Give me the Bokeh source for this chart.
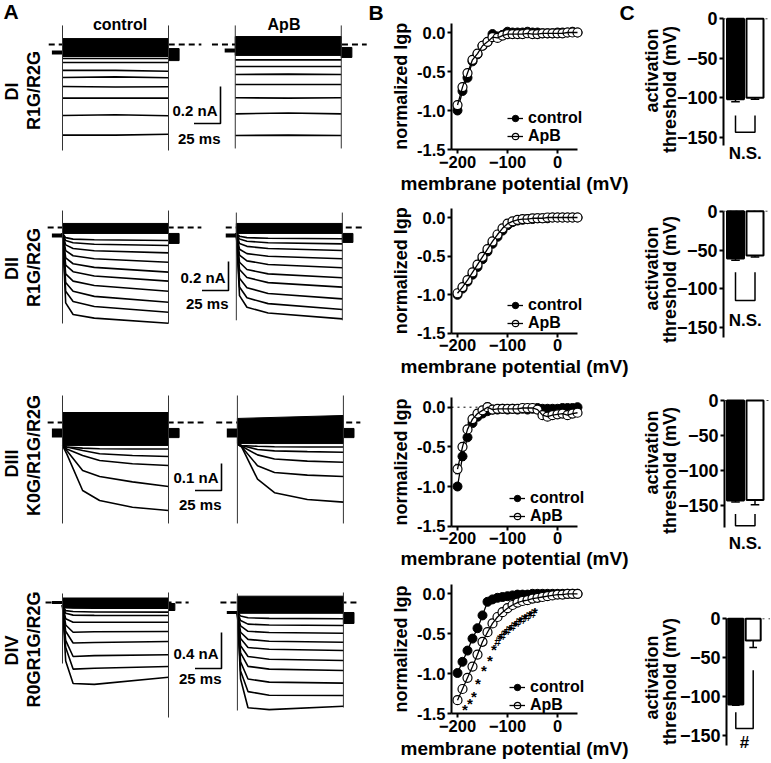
import math
from bokeh.plotting import figure
from bokeh.layouts import row, column
from bokeh.models import (Range1d, FixedTicker, PrintfTickFormatter, Label,
                          Legend, LegendItem, ColumnDataSource)
from bokeh.core.properties import value
from bokeh.embed import file_html
from bokeh.resources import INLINE

FONT = "Liberation Sans"

# ------------------------------------------------------------------ data
ROW_NAMES = ["DI", "DII", "DIII", "DIV"]
ROW_CONSTRUCTS = ["R1G/R2G", "R1G/R2G", "K0G/R1G/R2G", "R0GR1G/R2G"]

# Panel A: currents (nA) at knot times (ms) of a 100 ms step
STEP_MS = 100
SCALE_NA = [0.2, 0.2, 0.1, 0.4]
SCALE_MS = 25

DI_T = [0, 50, 100]
DI_CTRL = [[-0.076, -0.076, -0.076], [-0.097, -0.097, -0.097], [-0.140, -0.140, -0.145],
           [-0.178, -0.175, -0.180], [-0.227, -0.230, -0.228], [-0.290, -0.290, -0.290],
           [-0.384, -0.380, -0.385], [-0.490, -0.490, -0.485]]
DI_APB = [[-0.083, -0.083, -0.083], [-0.119, -0.119, -0.119], [-0.162, -0.160, -0.162],
          [-0.216, -0.216, -0.216], [-0.288, -0.290, -0.288], [-0.375, -0.370, -0.375],
          [-0.492, -0.490, -0.492]]

DII_T = [0, 3, 10, 30, 100]
DII_CTRL = [[-0.04, -0.07, -0.08, -0.085, -0.09], [-0.04, -0.09, -0.105, -0.115, -0.124],
            [-0.04, -0.12, -0.145, -0.16, -0.175], [-0.04, -0.16, -0.195, -0.215, -0.24],
            [-0.04, -0.21, -0.25, -0.275, -0.308], [-0.04, -0.26, -0.305, -0.335, -0.37],
            [-0.04, -0.32, -0.37, -0.40, -0.44], [-0.04, -0.38, -0.44, -0.475, -0.515],
            [-0.04, -0.44, -0.51, -0.545, -0.584], [-0.04, -0.52, -0.60, -0.625, -0.66]]
DII_APB = [[-0.04, -0.06, -0.07, -0.074, -0.078], [-0.04, -0.08, -0.095, -0.105, -0.113],
           [-0.04, -0.11, -0.13, -0.145, -0.159], [-0.04, -0.15, -0.18, -0.198, -0.216],
           [-0.04, -0.19, -0.23, -0.255, -0.278], [-0.04, -0.24, -0.29, -0.32, -0.347],
           [-0.04, -0.29, -0.345, -0.38, -0.411], [-0.04, -0.35, -0.415, -0.455, -0.492],
           [-0.04, -0.41, -0.485, -0.525, -0.566], [-0.04, -0.47, -0.55, -0.59, -0.63]]

DIII_T = [0, 4, 19, 35, 66, 100]
DIII_CTRL = [[-0.085, -0.091, -0.095, -0.097, -0.098, -0.098],
             [-0.085, -0.091, -0.104, -0.116, -0.122, -0.126],
             [-0.085, -0.098, -0.122, -0.141, -0.153, -0.159],
             [-0.085, -0.104, -0.178, -0.200, -0.220, -0.237],
             [-0.085, -0.116, -0.252, -0.289, -0.314, -0.326]]
DIII_APB = [[-0.08, -0.085, -0.088, -0.090, -0.091, -0.091],
            [-0.08, -0.085, -0.100, -0.105, -0.108, -0.110],
            [-0.08, -0.088, -0.120, -0.135, -0.143, -0.147],
            [-0.08, -0.090, -0.160, -0.185, -0.195, -0.200],
            [-0.08, -0.090, -0.210, -0.260, -0.285, -0.295]]

DIV_T = [0, 3, 10, 30, 100]
DIV_CTRL = [[-0.03, -0.055, -0.06, -0.062, -0.063], [-0.03, -0.09, -0.10, -0.105, -0.107],
            [-0.03, -0.12, -0.14, -0.143, -0.144], [-0.03, -0.18, -0.22, -0.22, -0.219],
            [-0.03, -0.25, -0.33, -0.325, -0.322], [-0.03, -0.32, -0.45, -0.445, -0.433],
            [-0.03, -0.42, -0.60, -0.59, -0.581], [-0.03, -0.50, -0.74, -0.73, -0.711],
            [-0.03, -0.65, -0.90, -0.91, -0.83]]
DIV_APB = [[-0.11, -0.15, -0.17, -0.176, -0.181], [-0.11, -0.20, -0.24, -0.25, -0.256],
           [-0.11, -0.26, -0.32, -0.333, -0.341], [-0.11, -0.33, -0.41, -0.43, -0.441],
           [-0.11, -0.40, -0.50, -0.52, -0.533], [-0.11, -0.48, -0.60, -0.63, -0.644],
           [-0.11, -0.56, -0.71, -0.74, -0.756], [-0.11, -0.66, -0.85, -0.885, -0.896],
           [-0.11, -0.76, -0.99, -1.03, -1.033], [-0.11, -0.85, -1.17, -1.19, -1.152]]

A_T = [DI_T, DII_T, DIII_T, DIV_T]
A_CTRL = [DI_CTRL, DII_CTRL, DIII_CTRL, DIV_CTRL]
A_APB = [DI_APB, DII_APB, DIII_APB, DIV_APB]
# band of small overlapping traces: (top at onset, top at end, bottom), nA
BAND_CTRL = [(0.032, 0.032, -0.065), (0.028, 0.028, -0.041), (0.037, 0.037, -0.085), (0.05, 0.05, -0.06)]
BAND_APB = [(0.043, 0.043, -0.059), (0.028, 0.028, -0.041), (0.015, 0.026, -0.078), (0.07, 0.07, -0.12)]
HOLD_CTRL = [-0.043, -0.055, -0.039, 0.0]
HOLD_APB = [-0.032, -0.055, -0.039, -0.111]
# tail after the step: (top, bottom, duration ms)
TAIL_CTRL = [(-0.022, -0.087, 10), (-0.041, -0.110, 10), (-0.022, -0.056, 10), (-0.011, -0.089, 6)]
TAIL_APB = [(-0.016, -0.070, 10), (-0.041, -0.103, 10), (-0.022, -0.056, 10), (-0.111, -0.233, 10)]
# capacitive transients at onset and offset: (top, bottom)
TRANS_CTRL = [((0.103, -0.573), (0.103, -0.573)), ((0.117, -0.662), (0.117, -0.662)),
              ((0.10, -0.374), (0.10, -0.374)), ((0.10, -0.678), (0.111, -1.278))]
TRANS_APB = [((0.103, -0.562), (0.103, -0.562)), ((0.103, -0.64), (0.103, -0.64)),
             ((0.10, -0.374), (0.10, -0.374)), ((0.10, -1.20), (0.111, -1.167))]
DASH_CTRL = [(-13, 131), (-14, 131), (-14, 133), (-16, 119)]
DASH_APB = [(-22, 124), (-10, 120), (-20, 116), (-16, 115)]

# Panel B: normalized Igp vs membrane potential
V_MV = [-200, -190, -180, -170, -160, -150, -140, -130, -120, -110, -100, -90, -80,
        -70, -60, -50, -40, -30, -20, -10, 0, 10, 20, 30, 40]
DI_IV_CTRL = [-1.00, -0.75, -0.58, -0.37, -0.28, -0.17, -0.12, -0.02, -0.05, -0.03, 0.01, 0.00, 0.00,
              0.00, 0.01, 0.00, 0.00, -0.01, -0.01, -0.01, 0.00, 0.00, 0.00, 0.01, 0.00]
DI_IV_APB = [-0.93, -0.70, -0.52, -0.35, -0.27, -0.17, -0.12, -0.06, -0.07, -0.04, -0.02, -0.02, -0.02,
             -0.02, -0.01, -0.02, -0.02, -0.01, -0.01, -0.01, -0.01, -0.01, 0.00, 0.00, 0.00]
DII_IV_CTRL = [-1.00, -0.92, -0.83, -0.74, -0.64, -0.54, -0.44, -0.34, -0.25, -0.17, -0.10, -0.06, -0.04,
               -0.03, -0.02, -0.02, -0.01, -0.01, -0.01, 0.00, 0.00, 0.00, 0.00, 0.00, 0.00]
DII_IV_APB = [-0.98, -0.90, -0.81, -0.71, -0.61, -0.51, -0.41, -0.31, -0.22, -0.14, -0.08, -0.05, -0.03,
              -0.02, -0.02, -0.01, -0.01, -0.01, 0.00, 0.00, 0.00, 0.00, 0.00, 0.00, 0.00]
DIII_IV_CTRL = [-1.00, -0.62, -0.38, -0.20, -0.12, -0.08, -0.05, -0.03, -0.03, -0.02, -0.03, -0.02, -0.03,
                -0.02, -0.03, -0.02, -0.01, -0.02, -0.02, -0.02, -0.02, -0.01, -0.01, -0.01, 0.00]
DIII_IV_APB = [-0.78, -0.50, -0.28, -0.15, -0.08, -0.04, 0.00, -0.03, -0.02, -0.02, -0.02, -0.02, -0.02,
               -0.01, -0.01, -0.01, -0.03, -0.10, -0.12, -0.10, -0.09, -0.08, -0.10, -0.08, -0.07]
DIII_ERR_CTRL = [0.00, 0.05, 0.04, 0.02, 0.03, 0.02, 0.02, 0.01, 0.01, 0.01, 0.01, 0.01, 0.01,
                 0.01, 0.01, 0.01, 0.01, 0.01, 0.01, 0.01, 0.01, 0.01, 0.01, 0.01, 0.01]
DIII_ERR_APB = [0.06, 0.05, 0.05, 0.03, 0.03, 0.03, 0.05, 0.02, 0.01, 0.01, 0.01, 0.01, 0.01,
                0.01, 0.01, 0.01, 0.02, 0.02, 0.02, 0.02, 0.02, 0.02, 0.02, 0.02, 0.02]
DIV_IV_CTRL = [-0.99, -0.85, -0.71, -0.56, -0.43, -0.27, -0.10, -0.07, -0.05, -0.04, -0.03, -0.02, -0.01,
               -0.01, -0.01, 0.00, 0.00, 0.00, 0.00, 0.00, 0.00, 0.00, 0.00, 0.00, 0.00]
DIV_IV_APB = [-1.33, -1.19, -1.05, -0.91, -0.76, -0.60, -0.48, -0.37, -0.29, -0.23, -0.18, -0.14, -0.11,
              -0.09, -0.08, -0.06, -0.05, -0.04, -0.03, -0.02, -0.01, -0.01, 0.00, 0.00, 0.00]
IV_CTRL = [DI_IV_CTRL, DII_IV_CTRL, DIII_IV_CTRL, DIV_IV_CTRL]
IV_APB = [DI_IV_APB, DII_IV_APB, DIII_IV_APB, DIV_IV_APB]
STAR_V = [-185, -175, -167, -159, -147, -135, -127, -115, -105, -95, -85, -75, -65, -55, -45]
STAR_Y = [-1.45, -1.37, -1.28, -1.12, -0.96, -0.83, -0.70, -0.56, -0.50, -0.44, -0.39, -0.35, -0.31, -0.27, -0.23]
HASH_V = [-120, -110, -100, -90, -80, -70, -60, -50]
HASH_Y = [-0.60, -0.53, -0.47, -0.42, -0.37, -0.33, -0.29, -0.25]

# Panel C: activation threshold (mV)
THR_CTRL = [-102, -61, -143, -110]
THR_CTRL_ERR = [3, 2, 2, 1]
THR_APB = [-100, -57, -142, -28]
THR_APB_ERR = [2, 2, 7, 9]
SIG_TEXT = ["N.S.", "N.S.", "N.S.", "#"]
BRACKET_L_TOP = [-122.6, -78.5, -162, -120]
BRACKET_R_TOP = [-122.6, -78.5, -162, -66]
BRACKET_BOT = [-143.7, -115, -179, -141]

# ------------------------------------------------------------------ layout (page pixels)
ROW_TOP = [0, 194, 382, 570]
ROW_BOT = [194, 382, 570, 762]
A_W, B_W, C_W = 387, 253, 130
B_LEFT, C_LEFT = 387, 640
A_X0, A_PXMS = 62, 1.06
A_BASE = [44, 227, 422, 602]
A_PXNA = [185, 145, 270, 90]
APB_SHIFT = [163, 164, 165, 165]
HOLD_LW = [4, 4, 9, 3]
SB_X = [220, 228, 221, 221]
SB_Y = [123, 290, 490, 668]
SB_NA_LY = [110, 277, 477, 653]
SB_MS_LY = [138, 303, 504, 678]
ROWLAB_X, CONS_X = 11, 33
ROWLAB_Y = [91, 268, 463, 650]
CONS_Y = [90, 267, 455, 649]

B_AXIS_X, B_PXMV, B_XLIM, B_YTOP = 451, 0.5, (-212, 40), 0.12
B_Y0 = [32, 217, 406.7, 593.3]
B_S = [78, 77.3, 79.3, 80]
LEG_REF = [(507, 145), (507, 332), (509, 525), (509, 714)]  # glyph left, box bottom
XLAB_Y = [183, 366, 558, 748]

C_AXIS_X = [723, 723, 724, 726]
C_BAR0 = [735, 735, 735, 735.3]
C_PITCH = [19.5, 19.5, 19.5, 17.4]
C_BARW = [17, 17, 17, 15]
C_Y0 = [18.3, 210.7, 400, 618.3]
C_S = [0.789, 0.777, 0.7, 0.778]
C_AXIS_MIN = [-160, -162, -181, -163]
SIG_Y = [153, 320, 543, 742]
CLAB1_X, CLAB2_X = 651, 669
CLAB1_Y = [70, 268, 452, 677]
CLAB2_Y = [89, 279, 470, 681]


def base_fig(w, h, xr, yr, **kw):
    p = figure(width=w, height=h, x_range=Range1d(*xr), y_range=Range1d(*yr),
               output_backend="svg", toolbar_location=None, title=None,
               min_border=0, **kw)
    p.outline_line_color = None
    p.grid.visible = False
    p.background_fill_color = "white"
    p.border_fill_color = "white"
    return p


def lab(p, x, y, text, size, angle=0.0, align="center", baseline="middle"):
    p.add_layout(Label(x=x, y=y, text=text, angle=angle, text_align=align, text_baseline=baseline,
                       text_font=FONT, text_font_style="bold", text_font_size=size,
                       text_color="black"))


def style_axis(a, size):
    a.axis_line_width = 2
    a.axis_line_color = "black"
    a.major_tick_line_width = 2
    a.major_tick_line_color = "black"
    a.major_tick_out = 4
    a.major_tick_in = 0
    a.minor_tick_out = 0
    a.minor_tick_in = 0
    a.major_label_standoff = 2
    a.major_label_text_font = FONT
    a.major_label_text_font_style = "bold"
    a.major_label_text_font_size = size
    a.major_label_text_color = "black"


def make_a(r):
    T, Bt = ROW_TOP[r], ROW_BOT[r]
    ax = lambda xr: (xr - A_X0) / A_PXMS
    ay = lambda yr: -(yr - A_BASE[r]) / A_PXNA[r]
    p = base_fig(A_W, Bt - T, (ax(0), ax(A_W)), (ay(Bt), ay(T)),
                 x_axis_location=None, y_axis_location=None)
    conds = [(A_CTRL[r], 0.0, BAND_CTRL[r], HOLD_CTRL[r], TAIL_CTRL[r], TRANS_CTRL[r], DASH_CTRL[r]),
             (A_APB[r], APB_SHIFT[r], BAND_APB[r], HOLD_APB[r], TAIL_APB[r], TRANS_APB[r], DASH_APB[r])]
    for traces, sh, band, hold, tail, trans, dash in conds:
        tt = [t + sh for t in A_T[r]]
        p.line([dash[0] + sh, dash[1] + sh], [0, 0], line_dash="6 4", line_width=2, line_color="black")
        p.patch([sh, sh + STEP_MS, sh + STEP_MS, sh], [band[0], band[1], band[2], band[2]],
                fill_color="black", line_color="black", line_width=1)
        p.multi_line([tt for _ in traces], traces, line_color="black", line_width=1.6)
        p.line([sh - 10, sh], [hold, hold], line_width=HOLD_LW[r], line_color="black")
        p.quad(left=[sh + STEP_MS], right=[sh + STEP_MS + tail[2]], top=[tail[0]], bottom=[tail[1]],
               fill_color="black", line_color="black")
        p.segment(x0=[sh, sh + STEP_MS], y0=[trans[0][0], trans[1][0]],
                  x1=[sh, sh + STEP_MS], y1=[trans[0][1], trans[1][1]],
                  line_color="#333333", line_width=1)
    sx, sy = ax(SB_X[r]), ay(SB_Y[r])
    p.line([sx - SCALE_MS, sx, sx], [sy, sy, sy + SCALE_NA[r]], line_width=1.6, line_color="black")
    lab(p, ax(SB_X[r] - 3), ay(SB_NA_LY[r]), f"{SCALE_NA[r]} nA", "15px", align="right")
    lab(p, ax(SB_X[r]), ay(SB_MS_LY[r]), f"{SCALE_MS} ms", "15px", align="right")
    lab(p, ax(ROWLAB_X), ay(ROWLAB_Y[r]), ROW_NAMES[r], "18px", angle=math.pi / 2)
    lab(p, ax(CONS_X), ay(CONS_Y[r]), ROW_CONSTRUCTS[r], "18px", angle=math.pi / 2)
    if r == 0:
        lab(p, ax(119.5), ay(24), "control", "16px")
        lab(p, ax(283.5), ay(24), "ApB", "16px")
        lab(p, ax(10.5), ay(11), "A", "21px")
        lab(p, ax(375.5), ay(12), "B", "21px")
    return p


def make_b(r):
    T, Bt = ROW_TOP[r], ROW_BOT[r]
    Y0, S = B_Y0[r], B_S[r]
    by = lambda yr: -(yr - Y0) / S
    bx = lambda xr: B_XLIM[0] + (xr - B_AXIS_X) / B_PXMV
    p = base_fig(B_W, Bt - T, (bx(B_LEFT), bx(B_LEFT + B_W)), (by(Bt), by(T)))
    for a in (p.xaxis[0], p.yaxis[0]):
        style_axis(a, "16.5px")
    p.xaxis.fixed_location = -1.5
    p.yaxis.fixed_location = B_XLIM[0]
    p.xaxis.bounds = B_XLIM
    p.yaxis.bounds = (-1.5, B_YTOP)
    p.xaxis.ticker = FixedTicker(ticks=[-200, -100, 0])
    p.yaxis.ticker = FixedTicker(ticks=[-1.5, -1.0, -0.5, 0.0])
    p.yaxis.formatter = PrintfTickFormatter(format="%.1f")
    if r == 2:
        p.line(list(B_XLIM), [0, 0], line_dash="dotted", line_width=1, line_color="black")
        for vals, errs in ((IV_CTRL[r], DIII_ERR_CTRL), (IV_APB[r], DIII_ERR_APB)):
            x0 = [v for v, e in zip(V_MV, errs) if e > 0]
            lo = [y - e for y, e in zip(vals, errs) if e > 0]
            hi = [y + e for y, e in zip(vals, errs) if e > 0]
            p.segment(x0=x0, y0=lo, x1=x0, y1=hi, line_color="black", line_width=1)
            p.segment(x0=[x - 5 for x in x0], y0=lo, x1=[x + 5 for x in x0], y1=lo,
                      line_color="black", line_width=1)
            p.segment(x0=[x - 5 for x in x0], y0=hi, x1=[x + 5 for x in x0], y1=hi,
                      line_color="black", line_width=1)
    cl = p.line(V_MV, IV_CTRL[r], line_color="black", line_width=1.3)
    cs = p.scatter(V_MV, IV_CTRL[r], marker="circle", size=9, fill_color="black", line_color="black")
    as_ = p.scatter(V_MV, IV_APB[r], marker="circle", size=9, fill_color="white",
                    line_color="black", line_width=1.2)
    al = p.line(V_MV, IV_APB[r], line_color="black", line_width=1.3)
    if r == 3:
        src = ColumnDataSource(dict(x=STAR_V, y=STAR_Y, t=["*"] * len(STAR_V)))
        p.text(x="x", y="y", text="t", source=src, text_font=value(FONT), text_font_style="bold",
               text_font_size="15px", text_align="center", text_baseline="middle", text_color="black")
        src2 = ColumnDataSource(dict(x=HASH_V, y=HASH_Y, t=["#"] * len(HASH_V)))
        p.text(x="x", y="y", text="t", source=src2, text_font=value(FONT), text_font_style="bold",
               text_font_size="12px", text_align="center", text_baseline="middle", text_color="black")
    gx, gb = LEG_REF[r]
    leg = Legend(items=[LegendItem(label=value("control"), renderers=[cl, cs]),
                        LegendItem(label=value("ApB"), renderers=[as_, al])],
                 location=(gx - B_LEFT, Bt - gb), orientation="vertical", spacing=0, padding=0,
                 margin=0, glyph_width=16, glyph_height=18, label_height=18, label_standoff=5,
                 border_line_alpha=0, background_fill_alpha=0,
                 label_text_font=FONT, label_text_font_style="bold", label_text_font_size="16px",
                 label_text_color="black")
    p.add_layout(leg)
    lab(p, bx(400), by(Y0 + (1.5 - B_YTOP) / 2 * S), "normalized Igp", "18px", angle=math.pi / 2)
    lab(p, bx(514), by(XLAB_Y[r]), "membrane potential (mV)", "19px")
    if r == 0:
        lab(p, bx(626.5), by(12), "C", "21px")
    return p


def make_c(r):
    T, Bt = ROW_TOP[r], ROW_BOT[r]
    cx = lambda xr: (xr - C_BAR0[r]) / C_PITCH[r]
    cy = lambda yr: -(yr - C_Y0[r]) / C_S[r]
    p = base_fig(C_W, Bt - T, (cx(C_LEFT), cx(C_LEFT + C_W)), (cy(Bt), cy(T)), x_axis_location=None)
    style_axis(p.yaxis[0], "18px")
    p.yaxis.fixed_location = cx(C_AXIS_X[r])
    p.yaxis.ticker = FixedTicker(ticks=[0, -50, -100, -150])
    p.yaxis.bounds = (C_AXIS_MIN[r], 0)
    p.line([cx(C_AXIS_X[r]), cx(C_LEFT + C_W)], [0, 0], line_dash="dotted", line_width=1,
           line_color="#444444")
    w = C_BARW[r] / C_PITCH[r]
    src = ColumnDataSource(dict(x=[0, 1], top=[0, 0], bottom=[THR_CTRL[r], THR_APB[r]],
                                fill=["black", "white"]))
    p.vbar(x="x", top="top", bottom="bottom", width=w, fill_color="fill", line_color="black",
           line_width=2, source=src)
    vals = [THR_CTRL[r], THR_APB[r]]
    ends = [v - e for v, e in zip(vals, [THR_CTRL_ERR[r], THR_APB_ERR[r]])]
    p.segment(x0=[0, 1], y0=vals, x1=[0, 1], y1=ends, line_color="black", line_width=1.5)
    p.segment(x0=[-0.22, 0.78], y0=ends, x1=[0.22, 1.22], y1=ends, line_color="black", line_width=1.5)
    p.line([0, 0, 1, 1], [BRACKET_L_TOP[r], BRACKET_BOT[r], BRACKET_BOT[r], BRACKET_R_TOP[r]],
           line_color="black", line_width=1.5)
    lab(p, 0.5, cy(SIG_Y[r]), SIG_TEXT[r], "17px")
    lab(p, cx(CLAB1_X), cy(CLAB1_Y[r]), "activation", "18px", angle=math.pi / 2)
    lab(p, cx(CLAB2_X), cy(CLAB2_Y[r]), "threshold (mV)", "18px", angle=math.pi / 2)
    return p


layout = column(*[row(make_a(r), make_b(r), make_c(r)) for r in range(4)])
open("out.html", "w").write(file_html(layout, INLINE))
